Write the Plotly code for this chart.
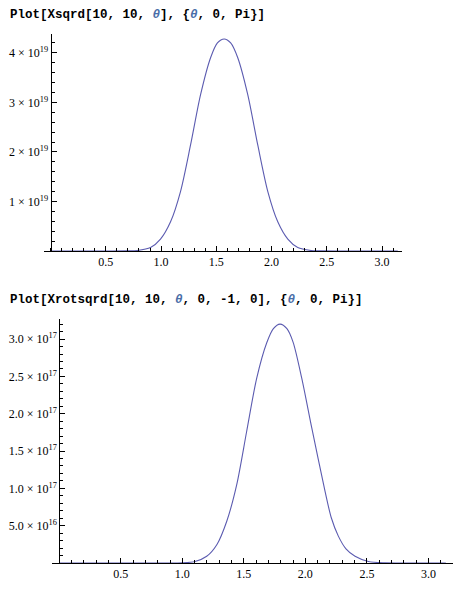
import plotly.graph_objects as go
import math

# ---------------- data ----------------
SCALE_TOP = 1e19
theta_top = [0.0, 0.5, 0.7, 0.785, 0.905, 0.995, 1.086, 1.176, 1.267, 1.357, 1.448, 1.51,
             1.571, 1.63, 1.694, 1.785, 1.875, 1.966, 2.056, 2.147, 2.237, 2.357, 2.44, 2.64, math.pi]
xsqrd = [0.0, 0.0, 0.002, 0.01, 0.07, 0.24, 0.59, 1.2, 2.14, 3.15, 3.9, 4.2,
         4.28, 4.2, 3.9, 3.15, 2.14, 1.2, 0.59, 0.24, 0.07, 0.01, 0.002, 0.0, 0.0]

SCALE_BOT = 1e17
theta_bot = [0.0, 0.8, 1.0, 1.103, 1.198, 1.280, 1.361, 1.442, 1.523, 1.605, 1.686, 1.74,
             1.794, 1.85, 1.90, 1.970, 2.052, 2.160, 2.21, 2.268, 2.33, 2.404, 2.512, 2.65, math.pi]
xrotsqrd = [0.0, 0.0, 0.002, 0.02, 0.09, 0.245, 0.56, 1.05, 1.765, 2.48, 2.95, 3.14,
            3.2, 3.14, 2.96, 2.48, 1.81, 0.96, 0.61, 0.36, 0.19, 0.09, 0.02, 0.002, 0.0]

x_ticks = [0.5, 1.0, 1.5, 2.0, 2.5, 3.0]
top_yticks = [1, 2, 3, 4]
top_ytext = ["1 × 10<sup>19</sup>", "2 × 10<sup>19</sup>", "3 × 10<sup>19</sup>", "4 × 10<sup>19</sup>"]
bot_yticks = [0.5, 1.0, 1.5, 2.0, 2.5, 3.0]
bot_ytext = ["5.0 × 10<sup>16</sup>", "1.0 × 10<sup>17</sup>", "1.5 × 10<sup>17</sup>",
             "2.0 × 10<sup>17</sup>", "2.5 × 10<sup>17</sup>", "3.0 × 10<sup>17</sup>"]

TH = "<span style='color:#4a6ea8'><i>θ</i></span>"
title_top = f"Plot[Xsqrd[10, 10, {TH}], {{{TH}, 0, Pi}}]"
title_bot = f"Plot[Xrotsqrd[10, 10, {TH}, 0, -1, 0], {{{TH}, 0, Pi}}]"

# ---------------- layout geometry ----------------
OFF = 8  # page body margin in the browser
W, H = 465 - OFF, 590 - OFF
LINE = "#5b5bb0"
TICKFONT = dict(family="Liberation Serif, Times New Roman, serif", size=12, color="black")

def px_dom_x(a, b):
    return [(a - OFF) / W, (b - OFF) / W]

def px_dom_y(top, bottom):
    return [(H - (bottom - OFF)) / H, (H - (top - OFF)) / H]

top_xr = [-0.059, 3.18]
top_xd = px_dom_x(44, 402)
top_yr = [0, 4.38]
top_yd = px_dom_y(34, 251)

bot_xr = [-0.062, 3.20]
bot_xd = px_dom_x(51.7, 453)
bot_yr = [0, 3.265]
bot_yd = px_dom_y(319.3, 563)

def zero_pos(xr, xd):
    return xd[0] + (0 - xr[0]) / (xr[1] - xr[0]) * (xd[1] - xd[0])

fig = go.Figure()
fig.add_trace(go.Scatter(x=theta_top, y=[v * SCALE_TOP for v in xsqrd], mode="lines",
                         line=dict(color=LINE, width=1.1, shape="spline", smoothing=0.8),
                         xaxis="x", yaxis="y", showlegend=False, hoverinfo="skip"))
fig.add_trace(go.Scatter(x=theta_bot, y=[v * SCALE_BOT for v in xrotsqrd], mode="lines",
                         line=dict(color=LINE, width=1.1, shape="spline", smoothing=0.8),
                         xaxis="x2", yaxis="y2", showlegend=False, hoverinfo="skip"))

def xaxis_cfg(xr, xd, anchor):
    return dict(range=xr, domain=xd, anchor=anchor, showgrid=False, zeroline=False,
                showline=True, linecolor="black", linewidth=1,
                ticks="inside", ticklen=5, tickcolor="black", tickwidth=1,
                tickvals=x_ticks, ticktext=[f"{v:.1f}" for v in x_ticks],
                tickfont=TICKFONT,
                minor=dict(ticks="inside", ticklen=3, dtick=0.1, tick0=0, tickcolor="black",
                           showgrid=False),
                fixedrange=True)

def yaxis_cfg(yr, yd, pos, vals, text, scale, minor_step):
    return dict(range=[yr[0] * scale, yr[1] * scale], domain=yd, anchor="free", position=pos,
                showgrid=False, zeroline=False, showline=True, linecolor="black", linewidth=1,
                ticks="inside", ticklen=5, tickcolor="black", tickwidth=1,
                tickvals=[v * scale for v in vals], ticktext=text, tickfont=TICKFONT,
                minor=dict(ticks="inside", ticklen=3, dtick=minor_step * scale, tick0=0,
                           tickcolor="black", showgrid=False),
                fixedrange=True)

fig.update_layout(
    width=W, height=H, margin=dict(l=0, r=0, t=0, b=0),
    paper_bgcolor="white", plot_bgcolor="white",
    xaxis=xaxis_cfg(top_xr, top_xd, "y"),
    yaxis=yaxis_cfg(top_yr, top_yd, zero_pos(top_xr, top_xd), top_yticks, top_ytext, SCALE_TOP, 0.2),
    xaxis2=xaxis_cfg(bot_xr, bot_xd, "y2"),
    yaxis2=yaxis_cfg(bot_yr, bot_yd, zero_pos(bot_xr, bot_xd), bot_yticks, bot_ytext, SCALE_BOT, 0.1),
    annotations=[
        dict(text="<b>" + title_top + "</b>", xref="paper", yref="paper", x=(7 - OFF + 1) / W,
             y=1 - (15 - OFF) / H, xanchor="left", yanchor="middle", showarrow=False,
             font=dict(family="Liberation Mono", size=12.5, color="black")),
        dict(text="<b>" + title_bot + "</b>", xref="paper", yref="paper", x=(7 - OFF + 1) / W,
             y=1 - (300 - OFF) / H, xanchor="left", yanchor="middle", showarrow=False,
             font=dict(family="Liberation Mono", size=12.5, color="black")),
    ],
)

fig.write_html("out.html")
